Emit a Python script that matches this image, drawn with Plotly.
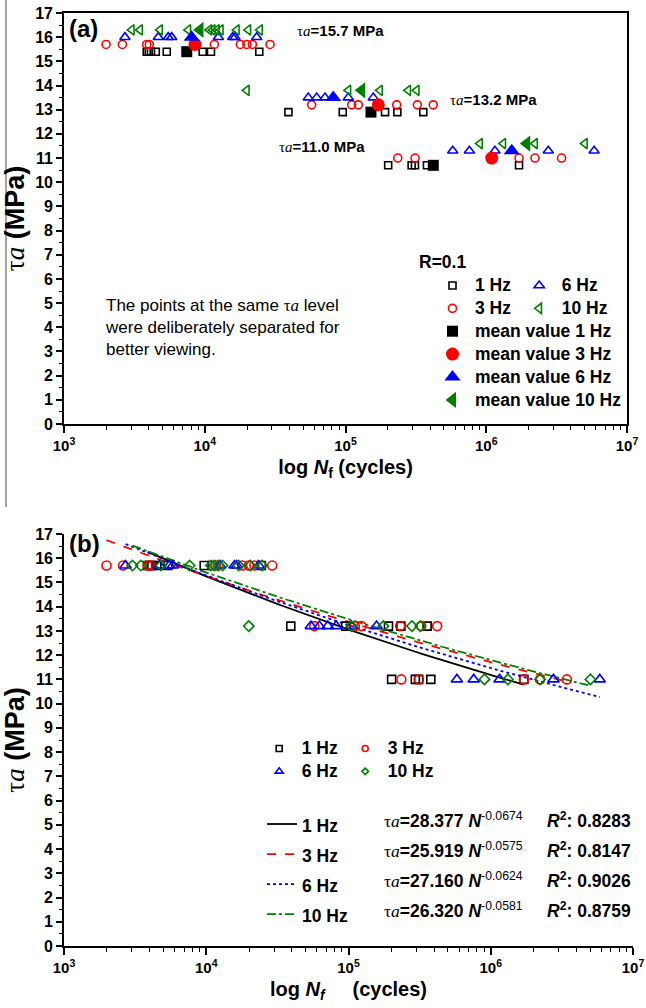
import numpy as np
import plotly.graph_objects as go

# ---------------------------------------------------------------- data
FREQ_LABELS = ["1 Hz", "3 Hz", "6 Hz", "10 Hz"]
STRESS_LEVELS = [15.7, 13.2, 11.0]  # shear stress amplitude, MPa

# cycles to failure, per loading frequency and stress amplitude
CYCLES_1HZ_157 = [3870, 4000, 4150, 4490, 5370, 9670, 11070, 24400]
CYCLES_1HZ_132 = [39300, 95600, 191000, 233600, 357000]
CYCLES_1HZ_110 = [201000, 295000, 311500, 379000, 1710000]

CYCLES_3HZ_157 = [1990, 2600, 3870, 4040, 11700, 17900, 19900, 21800, 29100]
CYCLES_3HZ_132 = [57500, 110700, 123300, 231000, 324000, 420000]
CYCLES_3HZ_110 = [235000, 312000, 1710000, 2220000, 3430000]

CYCLES_6HZ_157 = [2710, 4680, 5500, 5820, 12500, 15800, 16400, 23400]
CYCLES_6HZ_132 = [54400, 62400, 71500, 82000, 104700, 157500]
CYCLES_6HZ_110 = [578000, 759000, 1153000, 2760000, 5840000]

CYCLES_10HZ_157 = [3030, 3470, 4810, 7640, 10800, 11400, 12200, 13000, 16900, 20400, 24700]
CYCLES_10HZ_132 = [19900, 104800, 175800, 279000, 320500]
CYCLES_10HZ_110 = [903000, 1320000, 2220000, 5020000]

# mean fatigue life at 15.7 / 13.2 / 11.0 MPa
MEAN_1HZ = [7450, 151700, 420500]
MEAN_3HZ = [8530, 171000, 1094000]
MEAN_6HZ = [8070, 81900, 1517000]
MEAN_10HZ = [9250, 130300, 1940000]

# vertical shift applied in (a) so that frequencies at one level do not overlap
LEVEL_SHIFT = [-0.3, 0.0, 0.3, 0.6]

# power-law fits  tau_a = A * N^b
FIT_COEF = [28.377, 25.919, 27.160, 26.320]
FIT_EXP = [-0.0674, -0.0575, -0.0624, -0.0581]
FIT_R2 = [0.8283, 0.8147, 0.9026, 0.8759]

X_TICKS = [1e3, 1e4, 1e5, 1e6, 1e7]
X_TICK_TEXT = ["10<sup>3</sup>", "10<sup>4</sup>", "10<sup>5</sup>", "10<sup>6</sup>", "10<sup>7</sup>"]

# ---------------------------------------------------------------- style
SANS = "Liberation Sans, Arial, sans-serif"
SERIF = "Liberation Serif, DejaVu Serif, serif"
COLORS = ["#000000", "#ff0000", "#0000ff", "#008000"]
SYM_A = ["square-open", "circle-open", "triangle-up-open", "triangle-left-open"]
SYM_A_MEAN = ["square", "circle", "triangle-up", "triangle-left"]
SIZE_A = [7, 8, 9, 9]
SIZE_A_MEAN = [11, 13, 14, 14]
SYM_B = ["square-open", "circle-open", "triangle-up-open", "diamond-open"]
SIZE_B = [8, 9, 10, 8]
SIZE_B_KEY = [6, 6, 7, 5]
DASHES = ["solid", "dash", "dot", "dashdot"]

TAU = f'<span style="font-family:{SERIF};font-weight:normal">τ<i>a</i></span>'

cycles = [
    [CYCLES_1HZ_157, CYCLES_1HZ_132, CYCLES_1HZ_110],
    [CYCLES_3HZ_157, CYCLES_3HZ_132, CYCLES_3HZ_110],
    [CYCLES_6HZ_157, CYCLES_6HZ_132, CYCLES_6HZ_110],
    [CYCLES_10HZ_157, CYCLES_10HZ_132, CYCLES_10HZ_110],
]
means = [MEAN_1HZ, MEAN_3HZ, MEAN_6HZ, MEAN_10HZ]

W, H = 646, 1008
ML, MR, MT, MB = 64, 13, 13, 62
PW, PH = W - ML - MR, H - MT - MB


def paper_x(px):
    return (px - ML) / PW


def paper_y(py):
    return (H - MB - py) / PH


# panel frames in pixels
A_L, A_R, A_T, A_B = 64, 627, 13, 424
B_L, B_R, B_T, B_B = 64, 633, 534, 946


def ax_dom(px, py):
    return (px - A_L) / (A_R - A_L), (A_B - py) / (A_B - A_T)


def bx_dom(px, py):
    return (px - B_L) / (B_R - B_L), (B_B - py) / (B_B - B_T)


def leg_name(text):
    return f'<span style="font-size:17.5px">{text}</span>'


fig = go.Figure()

# ---------------------------------------------------------------- (a)
for i, lab in enumerate(FREQ_LABELS):
    xs, ys = [], []
    for lvl, grp in zip(STRESS_LEVELS, cycles[i]):
        xs += grp
        ys += [lvl + LEVEL_SHIFT[i]] * len(grp)
    fig.add_trace(go.Scatter(
        x=xs, y=ys, mode="markers", name=leg_name(lab),
        marker=dict(symbol=SYM_A[i], size=SIZE_A[i], color=COLORS[i],
                    line=dict(width=1.6, color=COLORS[i])),
        xaxis="x", yaxis="y",
        legend="legend" if i in (0, 1) else "legend2",
    ))

for i, lab in enumerate(FREQ_LABELS):
    fig.add_trace(go.Scatter(
        x=means[i], y=[lvl + LEVEL_SHIFT[i] for lvl in STRESS_LEVELS],
        mode="markers", name=leg_name("mean value " + lab),
        marker=dict(symbol=SYM_A_MEAN[i], size=SIZE_A_MEAN[i], color=COLORS[i],
                    line=dict(width=0)),
        xaxis="x", yaxis="y", legend="legend",
    ))

# ---------------------------------------------------------------- (b)
for i, lab in enumerate(FREQ_LABELS):
    all_n = np.concatenate([np.asarray(g, float) for g in cycles[i]])
    n_fit = np.logspace(np.log10(all_n.min()), np.log10(all_n.max()), 60)
    fig.add_trace(go.Scatter(
        x=n_fit, y=FIT_COEF[i] * n_fit ** FIT_EXP[i], mode="lines",
        name=leg_name(lab),
        line=dict(color=COLORS[i], width=1.8, dash=DASHES[i]),
        xaxis="x2", yaxis="y2", legend="legend5",
    ))

for i, lab in enumerate(FREQ_LABELS):
    xs, ys = [], []
    for lvl, grp in zip(STRESS_LEVELS, cycles[i]):
        xs += grp
        ys += [lvl] * len(grp)
    fig.add_trace(go.Scatter(
        x=xs, y=ys, mode="markers", name=lab, showlegend=False,
        marker=dict(symbol=SYM_B[i], size=SIZE_B[i], color=COLORS[i],
                    line=dict(width=1.6, color=COLORS[i])),
        xaxis="x2", yaxis="y2",
    ))

# compact legend keys for the symbols of (b)
for i, lab in enumerate(FREQ_LABELS):
    fig.add_trace(go.Scatter(
        x=[None], y=[None], mode="markers", name=leg_name(lab),
        marker=dict(symbol=SYM_B[i], size=SIZE_B_KEY[i], color=COLORS[i],
                    line=dict(width=1.6, color=COLORS[i])),
        xaxis="x2", yaxis="y2",
        legend="legend3" if i in (0, 2) else "legend4",
    ))

# ---------------------------------------------------------------- axes
tick_font = dict(family=SANS, size=16, color="black", weight="bold")
x_tick_font = dict(family=SANS, size=15, color="black", weight="bold")
title_font = dict(family=SANS, size=20, color="black", weight="bold")
ytitle_font = dict(family=SANS, size=27, color="black", weight="bold")

common_x = dict(
    type="log", range=[3, 7], tickvals=X_TICKS, ticktext=X_TICK_TEXT,
    showgrid=False, zeroline=False, showline=True, linecolor="black", linewidth=1.6,
    ticks="outside", ticklen=7, tickwidth=1.5, tickcolor="black",
    minor=dict(ticks="outside", ticklen=4, tickwidth=1.3, tickcolor="black",
               dtick="D1", showgrid=False),
    tickfont=x_tick_font, automargin=False,
)
common_y = dict(
    range=[0, 17], dtick=1, tick0=0,
    showgrid=False, zeroline=False, showline=True, linecolor="black", linewidth=1.6,
    ticks="outside", ticklen=6, tickwidth=1.5, tickcolor="black",
    minor=dict(ticks="outside", ticklen=3, tickwidth=1.3, tickcolor="black",
               dtick=0.5, showgrid=False),
    tickfont=tick_font, automargin=False,
)

fig.update_layout(
    width=W, height=H,
    margin=dict(l=ML, r=MR, t=MT, b=MB),
    paper_bgcolor="white", plot_bgcolor="white",
    font=dict(family=SANS, color="black"),
    xaxis=dict(common_x, domain=[0, paper_x(A_R)], anchor="y", mirror=True,
               title=dict(text="log <i>N</i><sub>f</sub> (cycles)", font=title_font, standoff=7)),
    yaxis=dict(common_y, domain=[paper_y(A_B), paper_y(A_T)], anchor="x", mirror=True,
               title=dict(text=TAU + " (MPa)", font=ytitle_font, standoff=4)),
    xaxis2=dict(common_x, domain=[0, paper_x(B_R)], anchor="y2",
                title=dict(text="log <i>N<sub>f</sub></i>\u00a0\u00a0\u00a0\u00a0 (cycles)",
                           font=title_font, standoff=7)),
    yaxis2=dict(common_y, domain=[paper_y(B_B), paper_y(B_T)], anchor="x2",
                title=dict(text=TAU + " (MPa)", font=ytitle_font, standoff=4)),
    showlegend=True,
)

leg_common = dict(bgcolor="rgba(0,0,0,0)", borderwidth=0, xanchor="left", yanchor="top",
                  itemclick=False, itemdoubleclick=False, itemwidth=35)
leg_font = dict(family=SANS, size=15.3, weight="bold", color="black")
fig.update_layout(
    legend=dict(leg_common, x=paper_x(430), y=paper_y(269), font=leg_font),
    legend2=dict(leg_common, x=paper_x(516.7), y=paper_y(269), font=leg_font),
    legend3=dict(leg_common, x=paper_x(256.7), y=paper_y(732), font=leg_font),
    legend4=dict(leg_common, x=paper_x(342.7), y=paper_y(732), font=leg_font),
    legend5=dict(leg_common, x=paper_x(262), y=paper_y(804), itemwidth=30,
                 font=dict(family=SANS, size=20.8, weight="bold", color="black")),
)

# ---------------------------------------------------------------- text
ann = []


def add_a(text, px, py, size, weight="bold"):
    x, y = ax_dom(px, py)
    ann.append(dict(text=text, x=x, y=y, xref="x domain", yref="y domain",
                    xanchor="left", yanchor="middle", showarrow=False, align="left",
                    font=dict(family=SANS, size=size, weight=weight, color="black")))


def add_b(text, px, py, size, weight="bold"):
    x, y = bx_dom(px, py)
    ann.append(dict(text=text, x=x, y=y, xref="x2 domain", yref="y2 domain",
                    xanchor="left", yanchor="middle", showarrow=False, align="left",
                    font=dict(family=SANS, size=size, weight=weight, color="black")))


add_a("(a)", 67, 29, 24)
add_b("(b)", 67, 543, 24)

for lvl, (px, py) in zip(STRESS_LEVELS, [(295, 31), (448, 99), (277, 146)]):
    add_a(f"{TAU}={lvl:.1f} MPa", px, py, 15)

add_a("R=0.1", 417, 262, 17.5)
add_a(f"The points at the same {TAU} level<br>were deliberately separated for<br>better viewing.",
      103, 327, 17, weight="normal")

for i, py in enumerate([820, 850, 880, 910]):
    add_b(f'{TAU}={FIT_COEF[i]:.3f} <i>N</i><sup><span style="font-weight:normal">{FIT_EXP[i]:.4f}</span></sup>',
          381.7, py, 17.5)
    add_b(f"<i>R</i><sup>2</sup>: {FIT_R2[i]:.4f}", 545, py, 17.5)

fig.update_layout(annotations=ann)

# thin frame line along the left edge of the upper part of the page
fig.add_shape(type="line", xref="paper", yref="paper",
              x0=paper_x(6), x1=paper_x(6), y0=paper_y(507), y1=paper_y(0),
              line=dict(color="#666666", width=1.2))

fig.write_html("out.html")
